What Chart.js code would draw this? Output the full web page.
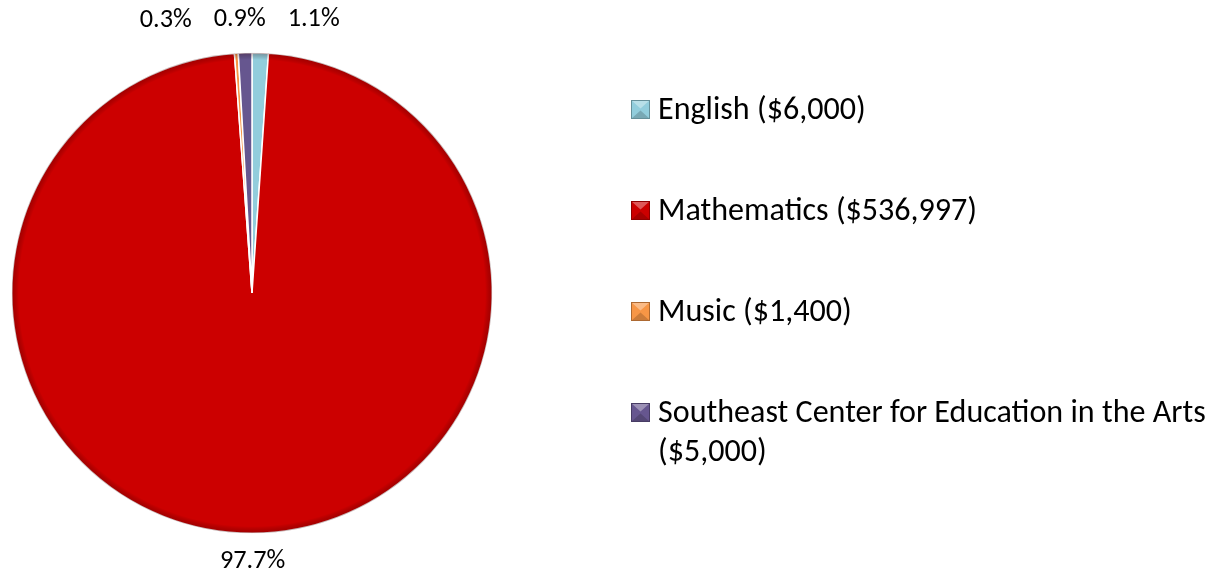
<!DOCTYPE html>
<html><head><meta charset="utf-8">
<script src="https://cdn.jsdelivr.net/npm/chart.js@4.4.1/dist/chart.umd.min.js"></script>
<style>html,body{margin:0;padding:0;background:#fff;overflow:hidden}#wrap{width:1223px;height:573px}</style>
</head><body><div id="wrap"><canvas id="c" width="1223" height="573"></canvas></div>
<script>
const categories = ['English', 'Mathematics', 'Music', 'Southeast Center for Education in the Arts'];
const amounts = [6000, 536997, 1400, 5000];
const amountLabels = ['($6,000)', '($536,997)', '($1,400)', '($5,000)'];
const percentLabels = ['1.1%', '97.7%', '0.3%', '0.9%'];
const colors = ['#92CDDC', '#CC0000', '#F79646', '#66568F'];

const FONT = 'Carlito, Calibri, Lato, sans-serif';

function fitFont(ctx, text, targetW, base) {
  ctx.font = base + 'px ' + FONT;
  const w = ctx.measureText(text).width;
  return base * targetW / w;
}
function shade(hex, f) {
  const n = parseInt(hex.slice(1), 16);
  let r = (n >> 16) & 255, g = (n >> 8) & 255, b = n & 255;
  if (f >= 0) { r += (255 - r) * f; g += (255 - g) * f; b += (255 - b) * f; }
  else { r *= 1 + f; g *= 1 + f; b *= 1 + f; }
  return 'rgb(' + Math.round(r) + ',' + Math.round(g) + ',' + Math.round(b) + ')';
}

const bevelPlugin = {
  id: 'bevel',
  afterDatasetsDraw(chart) {
    const meta = chart.getDatasetMeta(0);
    const a0 = meta.data[0];
    const ctx = chart.ctx;
    const cx = a0.x, cy = a0.y, r = a0.outerRadius;
    ctx.save();
    ctx.beginPath(); ctx.arc(cx, cy, r, 0, Math.PI * 2); ctx.clip();
    const g = ctx.createRadialGradient(cx, cy, r - 7, cx, cy, r);
    g.addColorStop(0, 'rgba(0,0,0,0)');
    g.addColorStop(1, 'rgba(60,0,0,0.30)');
    ctx.fillStyle = g;
    ctx.fillRect(cx - r, cy - r, 2 * r, 2 * r);
    ctx.restore();
  }
};

const labelPlugin = {
  id: 'pctLabels',
  afterDraw(chart) {
    const ctx = chart.ctx;
    const meta = chart.getDatasetMeta(0);
    const size = fitFont(ctx, '0.3%', 52, 26);
    ctx.save();
    ctx.font = size + 'px ' + FONT;
    ctx.fillStyle = '#000';
    ctx.textAlign = 'center';
    ctx.textBaseline = 'middle';
    const items = meta.data.map((arc, i) => {
      const mid = (arc.startAngle + arc.endAngle) / 2;
      const rr = arc.outerRadius + 28;
      const s = Math.sin(mid);
      return { i, x: arc.x + Math.cos(mid) * rr, y: arc.y + s * rr + (s > 0 ? 0 : -5),
               w: ctx.measureText(percentLabels[i]).width };
    });
    // spread overlapping labels horizontally
    const top = items.filter(o => o.y < meta.data[0].y).sort((a, b) => a.x - b.x);
    if (top.length > 1) {
      const gap = 22;
      const mean = top.reduce((s, o) => s + o.x, 0) / top.length;
      let pos = [0];
      for (let k = 1; k < top.length; k++) pos.push(pos[k - 1] + (top[k - 1].w + top[k].w) / 2 + gap);
      const pm = pos.reduce((s, p) => s + p, 0) / pos.length;
      top.forEach((o, k) => { o.x = mean - 7 + pos[k] - pm; });
    }
    items.forEach(o => ctx.fillText(percentLabels[o.i], o.x, o.y));
    ctx.restore();
  }
};

const legendPlugin = {
  id: 'sideLegend',
  afterDraw(chart) {
    const ctx = chart.ctx;
    const meta = chart.getDatasetMeta(0);
    const cy = meta.data[0].y;
    const size = fitFont(ctx, categories[3], 548, 32);
    const textX = 658, boxX = 631, box = 19, maxW = 1223 - textX - 4;
    const rowGap = 101, lineH = size * 1.22;
    let baseline = cy - 174;
    ctx.save();
    ctx.font = size + 'px ' + FONT;
    ctx.textBaseline = 'alphabetic';
    ctx.textAlign = 'left';
    categories.forEach((cat, i) => {
      const words = (cat + ' ' + amountLabels[i]).split(' ');
      const lines = []; let cur = '';
      words.forEach(w => {
        const t = cur ? cur + ' ' + w : w;
        if (ctx.measureText(t).width > maxW && cur) { lines.push(cur); cur = w; } else cur = t;
      });
      lines.push(cur);
      const bx = boxX, by = baseline - box, c = colors[i];
      ctx.fillStyle = c; ctx.fillRect(bx, by, box, box);
      ctx.fillStyle = shade(c, 0.35);
      ctx.beginPath(); ctx.moveTo(bx, by); ctx.lineTo(bx + box, by); ctx.lineTo(bx + box / 2, by + box * 0.45); ctx.closePath(); ctx.fill();
      ctx.fillStyle = shade(c, -0.18);
      ctx.beginPath(); ctx.moveTo(bx, by + box); ctx.lineTo(bx + box, by + box); ctx.lineTo(bx + box / 2, by + box * 0.55); ctx.closePath(); ctx.fill();
      ctx.strokeStyle = shade(c, -0.3); ctx.lineWidth = 1;
      ctx.strokeRect(bx + 0.5, by + 0.5, box - 1, box - 1);
      ctx.fillStyle = '#000';
      lines.forEach((ln, k) => ctx.fillText(ln, textX, baseline + k * lineH));
      baseline += rowGap + (lines.length - 1) * lineH;
    });
    ctx.restore();
  }
};

new Chart(document.getElementById('c'), {
  type: 'pie',
  data: {
    labels: categories,
    datasets: [{ data: amounts, backgroundColor: colors, borderColor: '#ffffff', borderWidth: 1.5 }]
  },
  options: {
    responsive: false, animation: false, devicePixelRatio: 1,
    layout: { padding: { left: 11, top: 52, right: 730, bottom: 39 } },
    plugins: { legend: { display: false }, tooltip: { enabled: false } }
  },
  plugins: [bevelPlugin, labelPlugin, legendPlugin]
});
</script></body></html>
